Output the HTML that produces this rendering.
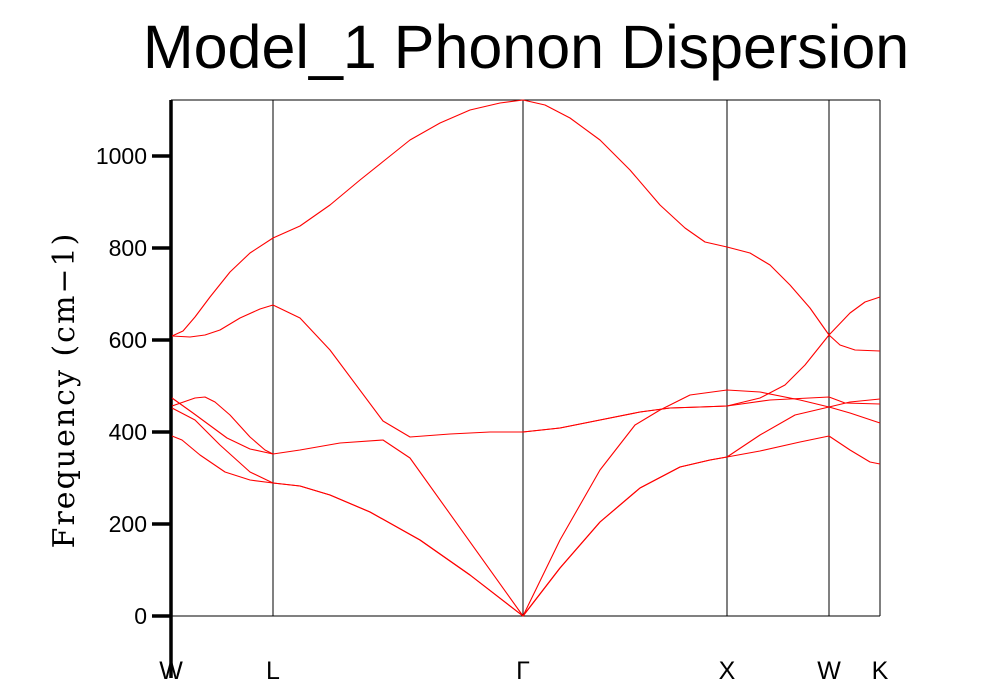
<!DOCTYPE html>
<html><head><meta charset="utf-8"><style>
html,body{margin:0;padding:0;background:#fff;}
svg{display:block;}
text{font-family:"Liberation Sans",sans-serif;}
</style></head><body>
<svg width="997" height="700" viewBox="0 0 997 700" xmlns="http://www.w3.org/2000/svg">
<rect width="997" height="700" fill="#fff"/>
<text x="526" y="68" font-size="61" text-anchor="middle">Model_1 Phonon Dispersion</text>
<g stroke="#000" stroke-width="1" fill="none">
<line x1="171" y1="100" x2="880" y2="100"/>
<line x1="880" y1="100" x2="880" y2="616"/>
<line x1="171" y1="616" x2="880" y2="616"/>
<line x1="273" y1="100" x2="273" y2="616"/>
<line x1="523" y1="100" x2="523" y2="616"/>
<line x1="727" y1="100" x2="727" y2="616"/>
<line x1="829" y1="100" x2="829" y2="616"/>
</g>
<g stroke="#000" stroke-width="3.5">
<line x1="171" y1="100" x2="171" y2="678"/>
<line x1="152" y1="616" x2="171" y2="616"/>
<line x1="152" y1="524" x2="171" y2="524"/>
<line x1="152" y1="432" x2="171" y2="432"/>
<line x1="152" y1="340" x2="171" y2="340"/>
<line x1="152" y1="248" x2="171" y2="248"/>
<line x1="152" y1="156" x2="171" y2="156"/>
</g>
<g font-size="23" text-anchor="end">
<text x="147" y="624">0</text>
<text x="147" y="532">200</text>
<text x="147" y="440">400</text>
<text x="147" y="348">600</text>
<text x="147" y="256">800</text>
<text x="147" y="164">1000</text>
</g>
<g font-size="25" text-anchor="middle">
<text x="171" y="679">W</text>
<text x="273" y="679">L</text>
<text x="523" y="679" font-family="Liberation Serif,serif">Γ</text>
<text x="727" y="679">X</text>
<text x="829" y="679">W</text>
<text x="880" y="679">K</text>
</g>
<text transform="translate(74,390) rotate(-90)" font-size="30" text-anchor="middle" style="font-family:'DejaVu Serif',serif" letter-spacing="2">Frequency (cm−1)</text>
<g stroke="#ff0000" stroke-width="1.1" fill="none" stroke-linejoin="round">
<polyline points="172,336 183,331 195,317 210,297 230,272 250,253 273,238 300,226 330,205 360,180 385,160 410,140 440,123 470,110 500,103 523,100 545,105 570,118 600,140 630,170 660,205 685,228 705,242 727,247 750,253 770,265 790,285 810,308 829,335 840,345 855,350 880,351"/>
<polyline points="172,336 190,337 205,335 220,330 240,318 260,309 273,305 300,318 330,350 383,421 410,437 450,434 490,432 523,432 560,428 600,420 640,412 670,408 700,407 727,406 760,398 785,385 805,365 829,335 850,313 865,302 880,297"/>
<polyline points="172,398 193,413 227,438 250,449 273,454 300,450 340,443 383,440 410,458 523,616 560,540 600,470 635,425 660,410 690,395 727,390 760,392 800,400 829,407 850,413 880,423"/>
<polyline points="172,406 195,398 205,397 215,402 230,415 250,437 265,450 273,454"/>
<polyline points="523,432 560,428 600,420 640,412 670,408 700,407 727,406 770,400 829,397 845,403 880,404"/>
<polyline points="172,408 195,420 220,445 250,472 273,483 300,486 330,495 370,512 420,540 470,575 523,616 560,568 600,522 640,488 680,467 710,460 727,457 760,435 795,415 829,407 850,402 880,399"/>
<polyline points="172,436 182,440 200,455 225,472 250,480 273,483 300,486 330,495 370,512 420,540 470,575 523,616 560,568 600,522 640,488 680,467 710,460 727,457 760,451 800,442 829,436 850,450 870,462 880,464"/>
</g>
</svg>
</body></html>
